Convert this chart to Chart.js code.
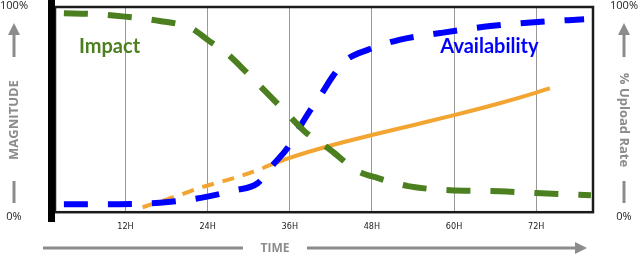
<!DOCTYPE html>
<html>
<head>
<meta charset="utf-8">
<script src="https://cdn.jsdelivr.net/npm/chart.js@4"></script>
<style>
  html, body { margin: 0; padding: 0; background: #fff; }
  canvas { display: block; }
</style>
</head>
<body>
<canvas id="myChart" width="640" height="256"></canvas>
<script>
// hours on the time axis
const tickHours = [12, 24, 36, 48, 60, 72];

// Impact (green)
const impactHours  = [3, 7, 11, 17, 21.5, 24, 26.7, 29.5, 32.4, 35.4, 38.3, 42, 45.7, 48.9, 53.3, 59.4, 66.7, 72, 80];
const impactValues = [97, 96.6, 95.6, 93.2, 89.8, 84, 77.6, 68.8, 59, 48.8, 39, 30.2, 20.5, 16.6, 12.7, 10.7, 10.2, 9.3, 8.3];

// Availability (blue)
const availHours  = [3, 11, 17, 23, 28, 31.3, 33.5, 35.6, 37.2, 39, 40.5, 42.4, 44.2, 47.3, 52, 58, 65.3, 72.2, 79];
const availValues = [3.9, 3.9, 4.6, 7, 10.7, 14.1, 22.9, 31, 40, 49.7, 57, 66.8, 74, 79, 84, 87.3, 90.7, 92.7, 94];

// % Upload Rate (orange), dashed up to index 5
const uploadHours  = [14.5, 19, 23, 27.8, 31.3, 33, 36, 42, 48, 54, 60, 66, 72, 74];
const uploadValues = [2.4, 7.3, 12, 16.6, 20.5, 22.8, 26.5, 32.5, 37.6, 42.4, 47.3, 52.5, 58.3, 60.5];
const uploadDashedUntil = 5;

const toPoints = (xs, ys) => xs.map((x, i) => ({ x: x, y: ys[i] }));

const GREEN = '#4b7f1f';
const BLUE = '#0000ff';
const ORANGE = '#f2a531';
const GRAY = '#8c8c8c';

const decor = {
  id: 'decor',
  afterDraw(chart) {
    const ctx = chart.ctx;
    const a = chart.chartArea;
    const xs = chart.scales.x, ys = chart.scales.y;
    ctx.save();

    // plot frame
    ctx.strokeStyle = '#1a1a1a';
    ctx.lineWidth = 2.5;
    ctx.strokeRect(a.left, a.top, a.right - a.left, a.bottom - a.top);
    // thick left bar
    ctx.fillStyle = '#000';
    ctx.fillRect(48, 0, 7, 222);

    // series labels
    ctx.font = 'bold 20px Lato';
    ctx.textBaseline = 'middle';
    ctx.fillStyle = GREEN;
    ctx.textAlign = 'left';
    ctx.fillText('Impact', xs.getPixelForValue(5.2), ys.getPixelForValue(80.5));
    ctx.fillStyle = BLUE;
    ctx.fillText('Availability', xs.getPixelForValue(58), ys.getPixelForValue(80.5));

    // side labels
    ctx.fillStyle = '#222';
    ctx.font = '11px "Open Sans"';
    ctx.textAlign = 'center';
    ctx.fillText('100%', 14, 6);
    ctx.fillText('0%', 14, 217);
    ctx.fillText('100%', 624, 6);
    ctx.fillText('0%', 624, 217);

    const upArrow = (x) => {
      ctx.fillStyle = GRAY;
      ctx.fillRect(x - 1.5, 34, 3, 23);
      ctx.beginPath();
      ctx.moveTo(x, 23);
      ctx.lineTo(x + 6, 35);
      ctx.lineTo(x - 6, 35);
      ctx.closePath();
      ctx.fill();
      ctx.fillRect(x - 1.5, 181, 3, 22);
    };
    upArrow(14);
    upArrow(624);

    ctx.fillStyle = GRAY;
    ctx.font = 'bold 13px "Open Sans"';
    ctx.save();
    ctx.translate(14, 120);
    ctx.rotate(-Math.PI / 2);
    ctx.fillText('MAGNITUDE', 0, 0);
    ctx.restore();

    ctx.save();
    ctx.translate(624, 120);
    ctx.rotate(Math.PI / 2);
    ctx.font = 'bold 13px "Open Sans"';
    ctx.fillText('% Upload Rate', 0, 0);
    ctx.restore();

    // time arrow
    ctx.fillRect(43, 246.5, 200, 3);
    ctx.fillRect(307, 246.5, 272, 3);
    ctx.beginPath();
    ctx.moveTo(587, 248);
    ctx.lineTo(575, 242);
    ctx.lineTo(575, 254);
    ctx.closePath();
    ctx.fill();
    ctx.font = 'bold 12px "Open Sans"';
    ctx.fillText('TIME', 275, 249);

    ctx.restore();
  }
};

new Chart(document.getElementById('myChart').getContext('2d'), {
  type: 'line',
  data: {
    datasets: [
      {
        label: 'Impact',
        data: toPoints(impactHours, impactValues),
        borderColor: GREEN,
        borderWidth: 6,
        borderDash: [24, 20],
        borderCapStyle: 'butt',
        pointRadius: 0,
        cubicInterpolationMode: 'monotone'
      },
      {
        label: 'Availability',
        data: toPoints(availHours, availValues),
        borderColor: BLUE,
        borderWidth: 6,
        borderDash: [24, 20],
        borderCapStyle: 'butt',
        pointRadius: 0,
        cubicInterpolationMode: 'monotone'
      },
      {
        label: '% Upload Rate',
        data: toPoints(uploadHours, uploadValues),
        borderColor: ORANGE,
        borderWidth: 4,
        pointRadius: 0,
        cubicInterpolationMode: 'monotone',
        segment: {
          borderDash: ctx => ctx.p0DataIndex < uploadDashedUntil ? [12, 9] : []
        }
      }
    ]
  },
  options: {
    responsive: false,
    animation: false,
    layout: { padding: { left: 55, right: 47, top: 7, bottom: 15 } },
    plugins: { legend: { display: false }, tooltip: { enabled: false } },
    scales: {
      x: {
        type: 'linear',
        min: 1.7,
        max: 80.3,
        afterBuildTicks: axis => { axis.ticks = tickHours.map(v => ({ value: v })); },
        grid: { color: '#999', lineWidth: 1, drawTicks: false },
        border: { display: false },
        ticks: {
          callback: v => v + 'H',
          color: '#222',
          font: { size: 9, family: 'DejaVu Sans Condensed, DejaVu Sans' },
          padding: 9,
          maxRotation: 0
        }
      },
      y: {
        display: false,
        min: 0,
        max: 100
      }
    }
  },
  plugins: [decor]
});
</script>
</body>
</html>
